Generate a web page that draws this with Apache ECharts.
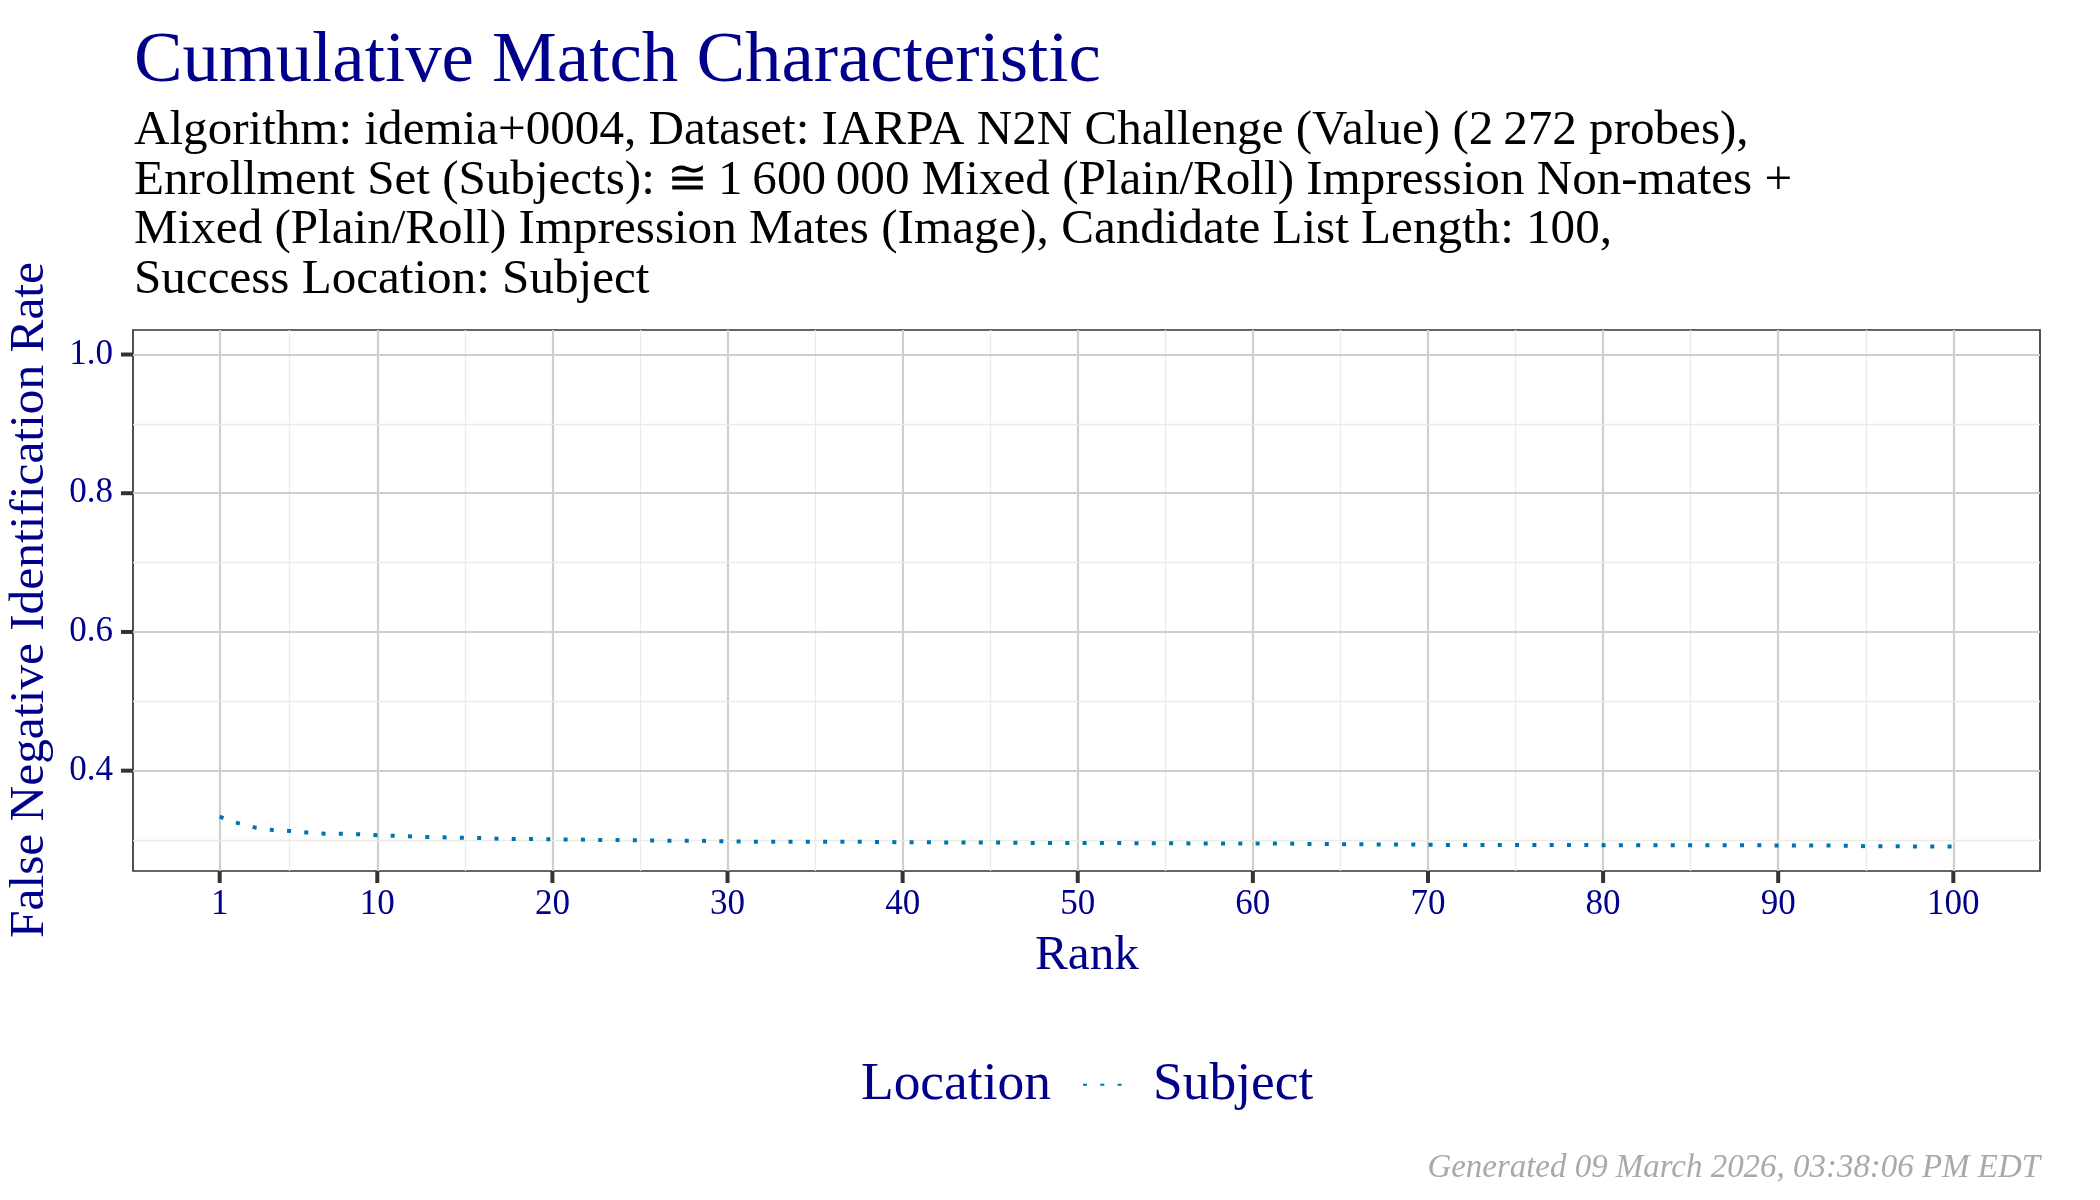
<!DOCTYPE html>
<html>
<head>
<meta charset="utf-8">
<script src="https://cdn.jsdelivr.net/npm/echarts@6/dist/echarts.min.js"></script>
<style>
html,body{margin:0;padding:0;background:#fff;}
#chart{width:2100px;height:1200px;}
</style>
</head>
<body>
<div id="chart"></div>
<script>
// ---------- data ----------
var ranks = [1,2,3,4,5,6,7,8,9,10,11,12,13,14,15,16,17,18,19,20,
  21,22,23,24,25,26,27,28,29,30,31,32,33,34,35,36,37,38,39,40,
  41,42,43,44,45,46,47,48,49,50,51,52,53,54,55,56,57,58,59,60,
  61,62,63,64,65,66,67,68,69,70,71,72,73,74,75,76,77,78,79,80,
  81,82,83,84,85,86,87,88,89,90,91,92,93,94,95,96,97,98,99,100];
var fnirSubject = [0.3336,0.3247,0.3182,0.3145,0.3131,0.3107,0.3092,0.3089,0.3084,0.3070,
  0.3061,0.3051,0.3042,0.3037,0.3033,0.3028,0.3019,0.3014,0.3014,0.3009,
  0.3009,0.3005,0.3000,0.3000,0.2995,0.2991,0.2991,0.2991,0.2986,0.2981,
  0.2977,0.2977,0.2977,0.2977,0.2977,0.2977,0.2977,0.2972,0.2972,0.2967,
  0.2967,0.2967,0.2963,0.2963,0.2963,0.2963,0.2958,0.2958,0.2958,0.2958,
  0.2958,0.2958,0.2953,0.2953,0.2953,0.2953,0.2949,0.2949,0.2949,0.2949,
  0.2949,0.2949,0.2944,0.2944,0.2939,0.2939,0.2935,0.2935,0.2935,0.2933,
  0.2930,0.2930,0.2930,0.2930,0.2930,0.2930,0.2930,0.2930,0.2930,0.2925,
  0.2925,0.2925,0.2925,0.2925,0.2925,0.2925,0.2925,0.2925,0.2925,0.2921,
  0.2921,0.2921,0.2921,0.2916,0.2911,0.2911,0.2911,0.2907,0.2907,0.2907];
var xTicks = [1,10,20,30,40,50,60,70,80,90,100];
var xMinor = [5,15,25,35,45,55,65,75,85,95];
var yTicks = [0.4,0.6,0.8,1.0];
var yMinor = [0.3,0.5,0.7,0.9];
var seriesName = 'Subject';
var legendTitle = 'Location';
var titleText = 'Cumulative Match Characteristic';
var subtitleLines = [
  'Algorithm: idemia+0004, Dataset: IARPA N2N Challenge (Value) (2\u2009272 probes),',
  'Enrollment Set (Subjects): \u2245\u20091\u2009600\u2009000 Mixed (Plain/Roll) Impression Non-mates +',
  'Mixed (Plain/Roll) Impression Mates (Image), Candidate List Length: 100,',
  'Success Location: Subject'
];
var xTitle = 'Rank';
var yTitle = 'False Negative Identification Rate';
var footer = 'Generated 09 March 2026, 03:38:06 PM EDT';

// ---------- helpers ----------
var FONT = '"Liberation Serif", "Times New Roman", serif';
var mctx = document.createElement('canvas').getContext('2d');
function fit(text, target, style) {
  mctx.font = (style ? style + ' ' : '') + '100px ' + FONT;
  return 100 * target / mctx.measureText(text).width;
}
var BLUE = '#00008B';
function baseY(baseline, fs) { return baseline - 0.25 * fs; }

var X_MIN = -3.95, X_MAX = 104.95, Y_MIN = 0.25535, Y_MAX = 1.03535;

var fsTitle = fit(titleText, 967);
var fsSub = fit(subtitleLines[0], 1615);
var fsYTitle = fit(yTitle, 676);
var fsXTitle = fit(xTitle, 104);
var fsLegend = fit(legendTitle, 190);
var fsFooter = fit(footer, 613, 'italic');
var fsTick = 35;

var data = ranks.map(function (r, i) { return [r, fnirSubject[i]]; });

var gridLines = [];
xTicks.forEach(function (v) { gridLines.push({xAxis: v, lineStyle: {color: '#cfcfcf', width: 2.2, type: 'solid'}}); });
xMinor.forEach(function (v) { gridLines.push({xAxis: v, lineStyle: {color: '#ebebeb', width: 1.3, type: 'solid'}}); });
yTicks.forEach(function (v) { gridLines.push({yAxis: v, lineStyle: {color: '#cfcfcf', width: 2.2, type: 'solid'}}); });
yMinor.forEach(function (v) { gridLines.push({yAxis: v, lineStyle: {color: '#ebebeb', width: 1.3, type: 'solid'}}); });

var graphics = [
  {type: 'text', x: 134, y: baseY(80.5, fsTitle), silent: true,
   style: {text: titleText, font: fsTitle + 'px ' + FONT, fill: BLUE, align: 'left', verticalAlign: 'middle'}}
];
var subBase = [143.5, 193, 242.5, 292];
subtitleLines.forEach(function (t, i) {
  graphics.push({type: 'text', x: 134, y: baseY(subBase[i], fsSub), silent: true,
    style: {text: t, font: fsSub + 'px ' + FONT, fill: '#000', align: 'left', verticalAlign: 'middle'}});
});
graphics.push({type: 'text', x: 30, y: 600, rotation: Math.PI / 2, silent: true,
  style: {text: yTitle, font: fsYTitle + 'px ' + FONT, fill: BLUE, align: 'center', verticalAlign: 'middle'}});
graphics.push({type: 'text', x: 1087, y: baseY(968, fsXTitle), silent: true,
  style: {text: xTitle, font: fsXTitle + 'px ' + FONT, fill: BLUE, align: 'center', verticalAlign: 'middle'}});
graphics.push({type: 'text', x: 861, y: baseY(1098, fsLegend), silent: true,
  style: {text: legendTitle, font: fsLegend + 'px ' + FONT, fill: BLUE, align: 'left', verticalAlign: 'middle'}});
graphics.push({type: 'text', x: 2040, y: baseY(1177, fsFooter), silent: true,
  style: {text: footer, font: 'italic ' + fsFooter + 'px ' + FONT, fill: '#a9a9a9', align: 'right', verticalAlign: 'middle'}});

var chart = echarts.init(document.getElementById('chart'), null, {renderer: 'canvas'});
chart.setOption({
  animation: false,
  backgroundColor: '#ffffff',
  grid: {left: 133, right: 60, top: 330, bottom: 329, show: true, borderColor: '#333333', borderWidth: 1.7, backgroundColor: 'transparent', containLabel: false},
  xAxis: {
    type: 'value', min: X_MIN, max: X_MAX,
    axisLine: {show: false},
    axisTick: {show: false},
    axisLabel: {show: true, customValues: xTicks, margin: 16, color: BLUE, fontFamily: FONT, fontSize: fsTick},
    splitLine: {show: false}
  },
  yAxis: {
    type: 'value', min: Y_MIN, max: Y_MAX,
    axisLine: {show: false},
    axisTick: {show: false},
    axisLabel: {show: true, customValues: yTicks, margin: 20, color: BLUE, fontFamily: FONT, fontSize: fsTick,
      formatter: function (v) { return Number(v).toFixed(1); }},
    splitLine: {show: false}
  },
  legend: {
    show: true, left: 1077, top: 1080 - fsLegend / 2, orient: 'horizontal',
    itemWidth: 40, itemHeight: 14, selectedMode: false,
    itemStyle: {opacity: 0, borderWidth: 0},
    data: [seriesName],
    textStyle: {color: BLUE, fontFamily: FONT, fontSize: fsLegend, padding: [4, 0, 0, 25]}
  },
  series: [{
    name: seriesName, type: 'line', data: data, showSymbol: false, symbol: 'none', z: 3,
    lineStyle: {color: '#0072B2', width: 4, type: [4, 13.3], cap: 'butt'},
    itemStyle: {color: '#0072B2'},
    markLine: {silent: true, z: 1, symbol: ['none', 'none'], label: {show: false}, animation: false,
      emphasis: {disabled: true}, data: gridLines}
  }]
});

// tick marks placed via the chart's own value->pixel conversion
xTicks.forEach(function (v) {
  var p = chart.convertToPixel({xAxisIndex: 0, yAxisIndex: 0}, [v, Y_MIN]);
  graphics.push({type: 'rect', silent: true, z: 10,
    shape: {x: p[0] - 2, y: p[1], width: 4, height: 12},
    style: {fill: '#333333'}});
});
yTicks.forEach(function (v) {
  var p = chart.convertToPixel({xAxisIndex: 0, yAxisIndex: 0}, [X_MIN, v]);
  graphics.push({type: 'rect', silent: true, z: 10,
    shape: {x: p[0] - 12, y: p[1] - 2, width: 12, height: 4},
    style: {fill: '#333333'}});
});
chart.setOption({graphic: graphics});
</script>
</body>
</html>
